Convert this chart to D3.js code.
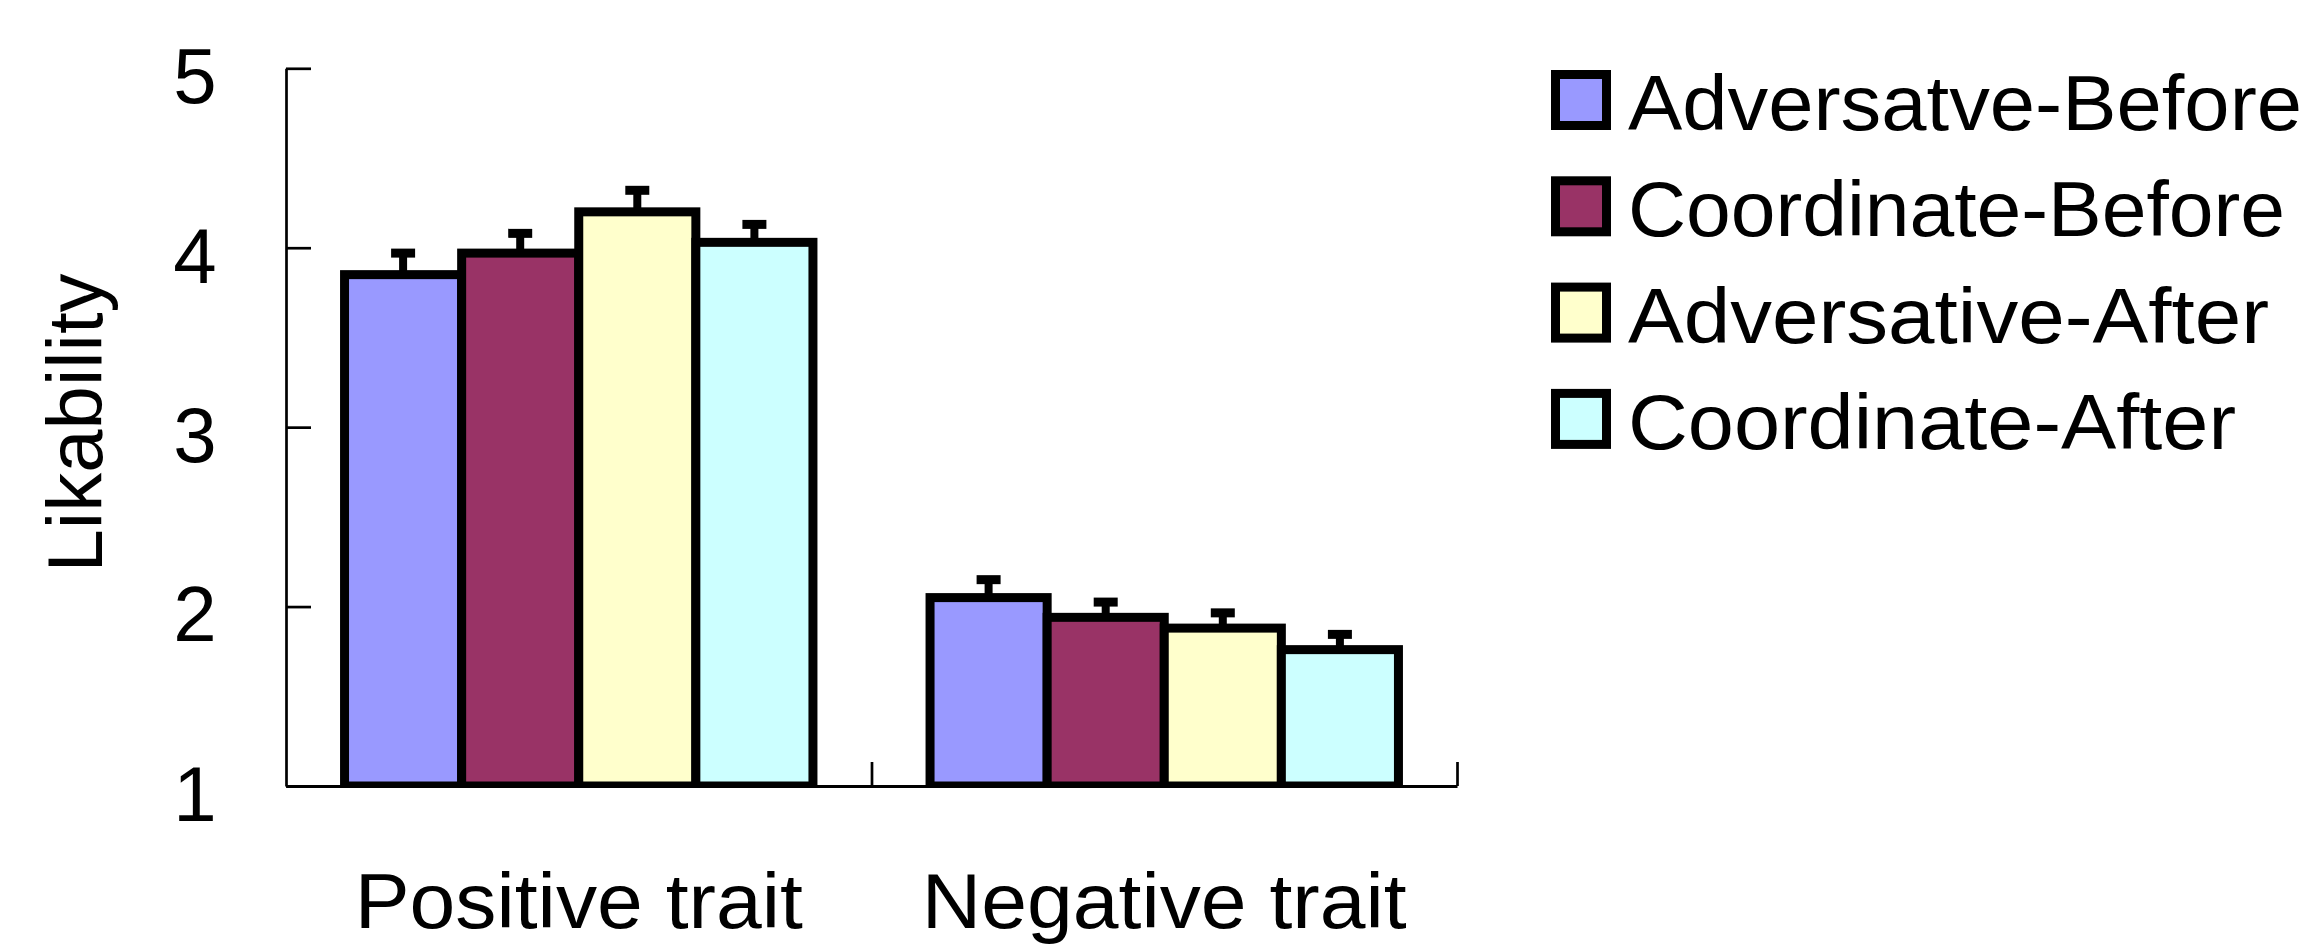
<!DOCTYPE html>
<html>
<head>
<meta charset="utf-8">
<script src="https://cdn.jsdelivr.net/npm/d3@7"></script>
<style>
  html, body { margin: 0; padding: 0; background: #ffffff; }
  svg text { font-family: "Liberation Sans", Arial, sans-serif; fill: #000000; }
</style>
</head>
<body>
<div id="chart"></div>
<script>
'use strict';

const categories = ['Positive trait', 'Negative trait'];
const seriesNames = ['Adversatve-Before', 'Coordinate-Before', 'Adversative-After', 'Coordinate-After'];
const meanPositive = [3.85, 3.97, 4.20, 4.03];
const meanNegative = [2.05, 1.94, 1.88, 1.76];
const errPositive = [0.12, 0.11, 0.12, 0.10];
const errNegative = [0.10, 0.085, 0.085, 0.085];
const yTicks = [1, 2, 3, 4, 5];
const seriesColors = ['#9999ff', '#993366', '#ffffcc', '#ccffff'];

const width = 2308;
const height = 946;
const fontSize = 78;

const rows = [
  {cat: categories[0], means: meanPositive, errs: errPositive},
  {cat: categories[1], means: meanNegative, errs: errNegative}
];

const svg = d3.select('#chart').append('svg')
  .attr('width', width)
  .attr('height', height);

const plot = {left: 286, right: 1457, top: 68.3, bottom: 786};

const y = d3.scaleLinear()
  .domain([1, 5])
  .range([plot.bottom, plot.top]);

const x0 = d3.scaleBand()
  .domain(categories)
  .range([plot.left, plot.right])
  .paddingInner(0.2)
  .paddingOuter(0.1);

const x1 = d3.scaleBand()
  .domain(seriesNames)
  .range([0, x0.bandwidth()]);

// bars are clipped at the baseline like the original
svg.append('clipPath')
  .attr('id', 'plotclip')
  .append('rect')
  .attr('x', 0)
  .attr('y', 0)
  .attr('width', width)
  .attr('height', plot.bottom + 2);

const groups = svg.append('g')
  .attr('clip-path', 'url(#plotclip)')
  .selectAll('g')
  .data(rows)
  .join('g')
  .attr('transform', d => `translate(${x0(d.cat)}, 0)`);

groups.selectAll('rect')
  .data(d => seriesNames.map((s, i) => ({name: s, value: d.means[i], err: d.errs[i], color: seriesColors[i]})))
  .join('rect')
  .attr('x', d => x1(d.name))
  .attr('y', d => y(d.value))
  .attr('width', x1.bandwidth())
  .attr('height', d => y(1) - y(d.value))
  .attr('fill', d => d.color)
  .attr('stroke', '#000000')
  .attr('stroke-width', 9);

// error bars (upper only)
const errs = groups.selectAll('g.err')
  .data(d => seriesNames.map((s, i) => ({name: s, value: d.means[i], err: d.errs[i]})))
  .join('g')
  .attr('class', 'err');

errs.append('line')
  .attr('x1', d => x1(d.name) + x1.bandwidth() / 2)
  .attr('x2', d => x1(d.name) + x1.bandwidth() / 2)
  .attr('y1', d => y(d.value))
  .attr('y2', d => y(d.value + d.err))
  .attr('stroke', '#000000')
  .attr('stroke-width', 8);

errs.append('line')
  .attr('x1', d => x1(d.name) + x1.bandwidth() / 2 - 12)
  .attr('x2', d => x1(d.name) + x1.bandwidth() / 2 + 12)
  .attr('y1', d => y(d.value + d.err))
  .attr('y2', d => y(d.value + d.err))
  .attr('stroke', '#000000')
  .attr('stroke-width', 9);

// y axis, ticks pointing inward
const yAxis = d3.axisLeft(y)
  .tickValues(yTicks)
  .tickFormat(d3.format('d'))
  .tickSize(-25)
  .tickSizeOuter(0);

const yAxisG = svg.append('g')
  .attr('transform', `translate(${plot.left}, 0)`)
  .call(yAxis);

yAxisG.select('.domain')
  .attr('stroke', '#000000')
  .attr('stroke-width', 2.7);
yAxisG.selectAll('.tick line')
  .attr('stroke', '#000000')
  .attr('stroke-width', 2.7);
yAxisG.selectAll('.tick text')
  .attr('x', -91)
  .attr('dy', '0.44em')
  .attr('text-anchor', 'middle')
  .style('font-size', fontSize + 'px')
  .style('font-family', '"Liberation Sans", Arial, sans-serif')
  .attr('fill', '#000000');

// x axis with separators between the groups
const xEdge = d3.scaleLinear()
  .domain([0, categories.length])
  .range([plot.left, plot.right]);

const xAxis = d3.axisBottom(xEdge)
  .tickValues(d3.range(1, categories.length + 1))
  .tickSize(-24)
  .tickSizeOuter(0)
  .tickFormat('');

const xAxisG = svg.append('g')
  .attr('transform', `translate(0, ${plot.bottom})`)
  .call(xAxis);

xAxisG.select('.domain')
  .attr('stroke', '#000000')
  .attr('stroke-width', 3);
xAxisG.selectAll('.tick line')
  .attr('stroke', '#000000')
  .attr('stroke-width', 2.7);

const catStretch = 1.055;
svg.append('g')
  .selectAll('text')
  .data(categories)
  .join('text')
  .text(d => d)
  .attr('x', d => x0(d) + x0.bandwidth() / 2)
  .attr('y', 928)
  .attr('text-anchor', 'middle')
  .style('font-size', fontSize + 'px')
  .each(function () {
    const len = this.getComputedTextLength();
    d3.select(this)
      .attr('textLength', len * catStretch)
      .attr('lengthAdjust', 'spacingAndGlyphs');
  });

// y axis title
svg.append('text')
  .text('Likability')
  .attr('transform', `translate(102, 423) rotate(-90)`)
  .attr('text-anchor', 'middle')
  .style('font-size', fontSize + 'px');

// legend
const legendTextWidths = [674, 657, 641, 608];
const legend = svg.append('g')
  .attr('transform', 'translate(1551, 70)');

const legendItems = legend.selectAll('g')
  .data(seriesNames)
  .join('g')
  .attr('transform', (d, i) => `translate(0, ${i * 106.3})`);

legendItems.append('rect')
  .attr('x', 4.5)
  .attr('y', 4.5)
  .attr('width', 51)
  .attr('height', 51)
  .attr('fill', (d, i) => seriesColors[i])
  .attr('stroke', '#000000')
  .attr('stroke-width', 9);

legendItems.append('text')
  .text(d => d)
  .attr('x', 77)
  .attr('y', 60)
  .attr('textLength', (d, i) => legendTextWidths[i])
  .attr('lengthAdjust', 'spacingAndGlyphs')
  .style('font-size', fontSize + 'px');
</script>
</body>
</html>
